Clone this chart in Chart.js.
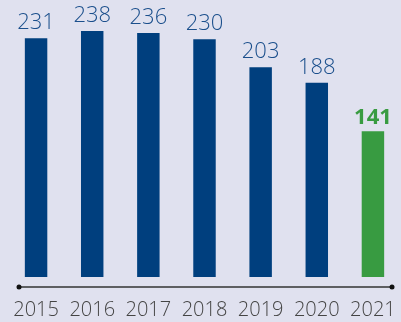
<!DOCTYPE html>
<html>
<head>
<meta charset="utf-8">
<script src="https://cdn.jsdelivr.net/npm/chart.js@4"></script>
<style>
  html, body { margin: 0; padding: 0; background: #e0e1ef; }
  .chart-container { position: relative; width: 401px; height: 322px; }
</style>
</head>
<body>
<div class="chart-container">
  <canvas id="bigChart"></canvas>
</div>
<script>
const years = ['2015', '2016', '2017', '2018', '2019', '2020', '2021'];
const counts = [231, 238, 236, 230, 203, 188, 141];
const barColors = ['#003f7e', '#003f7e', '#003f7e', '#003f7e', '#003f7e', '#003f7e', '#389b41'];

// value over each bar, the latest year in bold green
const valueLabels = {
  id: 'valueLabels',
  afterDatasetsDraw(chart) {
    const ctx = chart.ctx;
    const meta = chart.getDatasetMeta(0);
    ctx.save();
    ctx.textAlign = 'center';
    ctx.textBaseline = 'alphabetic';
    meta.data.forEach((bar, i) => {
      const last = i === counts.length - 1;
      ctx.fillStyle = last ? '#389b41' : '#1b4f8c';
      ctx.font = (last ? '700 ' : '300 ') + '22px "Open Sans", Lato, sans-serif';
      ctx.fillText(String(counts[i]), bar.x, bar.y - (last ? 7 : 9));
    });
    ctx.restore();
  }
};

// baseline with a dot at each end, sitting a little below the bars
const baseLine = {
  id: 'baseLine',
  afterDraw(chart) {
    const ctx = chart.ctx;
    const y = chart.chartArea.bottom + 10;
    const x0 = 19, x1 = 392;
    ctx.save();
    ctx.strokeStyle = '#333333';
    ctx.fillStyle = '#111111';
    ctx.lineWidth = 1.5;
    ctx.beginPath();
    ctx.moveTo(x0, y);
    ctx.lineTo(x1, y);
    ctx.stroke();
    [x0, x1].forEach(x => {
      ctx.beginPath();
      ctx.arc(x, y, 2.5, 0, Math.PI * 2);
      ctx.fill();
    });
    ctx.restore();
  }
};

new Chart(document.getElementById('bigChart'), {
  type: 'bar',
  data: {
    labels: years,
    datasets: [{
      data: counts,
      backgroundColor: barColors,
      barPercentage: 0.4,
      categoryPercentage: 1
    }]
  },
  options: {
    responsive: true,
    maintainAspectRatio: false,
    animation: false,
    layout: { padding: { left: 8, right: 0, top: 0, bottom: 0 } },
    plugins: {
      legend: { display: false },
      tooltip: { enabled: false }
    },
    scales: {
      x: {
        grid: { display: false, drawTicks: false },
        border: { display: false },
        ticks: {
          padding: 21,
          maxRotation: 0,
          autoSkip: false,
          color: '#444444',
          font: { family: '"Open Sans", Lato, sans-serif', size: 20, weight: 300 }
        },
        afterFit(scale) {
          // labels may spill past the edges; keep the bars spread wide
          scale.height = 45;
          scale.paddingLeft = 0;
          scale.paddingRight = 0;
        }
      },
      y: {
        display: false,
        min: 0,
        max: 268
      }
    }
  },
  plugins: [valueLabels, baseLine]
});
</script>
</body>
</html>
